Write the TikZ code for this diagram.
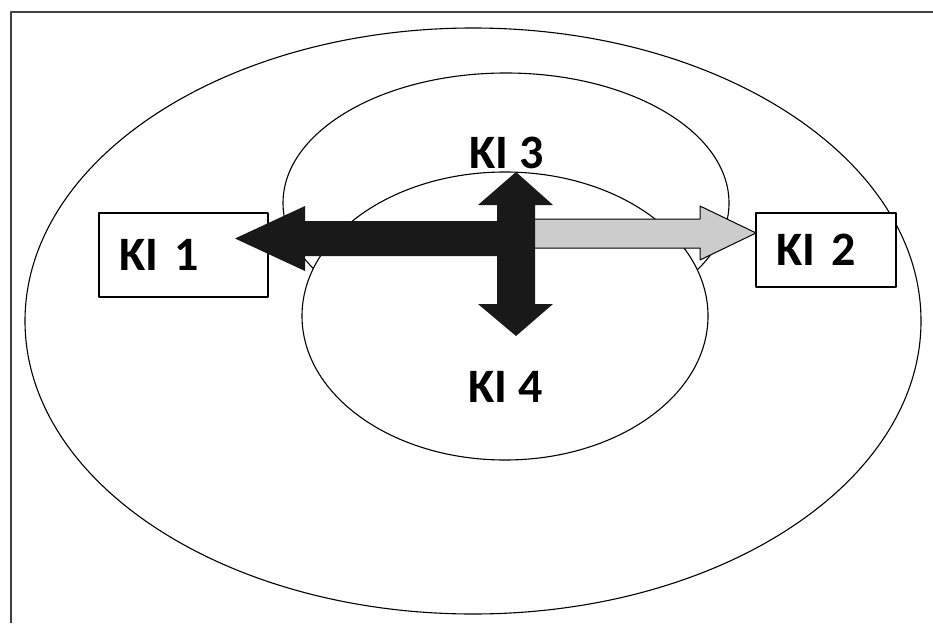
\documentclass[tikz,border=0pt]{standalone}
\usepackage{fontspec}
\setmainfont{Carlito}
\usetikzlibrary{positioning}

\begin{document}
\begin{tikzpicture}[x=1pt, y=-1pt, line join=round,
                    ring/.style={line width=1.1pt},
                    frame/.style={line width=1.5pt, black!75},
                    kitext/.style={font=\fontsize{48}{56}\selectfont\bfseries, inner sep=0pt},
                    kibox/.style={draw, fill=white, line width=1.1pt, kitext,
                                  inner xsep=20pt, inner ysep=0pt, align=left},
                    blk/.style={fill=black!90},
                    gry/.style={fill=gray!40, draw=black, line width=1pt}]
  \useasboundingbox (0,0) rectangle (933,623);
  \draw[frame] (11,623) -- (11,12) -- (933,12);
  % rings
  \draw[ring] (473,321) ellipse [x radius=448pt, y radius=293pt];
  \draw[ring] (506,203) ellipse [x radius=223pt, y radius=130pt];
  \draw[ring, fill=white] (505,316) ellipse [x radius=203pt, y radius=144pt];
  \node[kitext] (ki3) at (506.5,152.5) {KI 3};
  \node[kitext] (ki4) at (505.5,387) {KI 4};
  % boxes
  \node[kibox, text width=129pt, minimum height=84pt] (ki1) at (183.5,255) {KI 1};
  \node[kibox, text width=100pt, minimum height=74pt] (ki2) at (826,250) {KI 2};
  % arrows
  \draw[gry] (530,219) -- (700,219) -- (700,206) -- (756,233) -- (700,260)
             -- (700,248) -- (530,248) -- cycle;
  \fill[blk] (516,221) -- (305,221) -- (305,206) -- (235,238.5) -- (305,271)
             -- (305,256) -- (516,256) -- cycle;
  \fill[blk] (497,205) -- (478,205) -- (516,172) -- (553,205) -- (535,205)
             -- (535,304) -- (553,304) -- (516,336) -- (478,304) -- (497,304) -- cycle;
\end{tikzpicture}
\end{document}
